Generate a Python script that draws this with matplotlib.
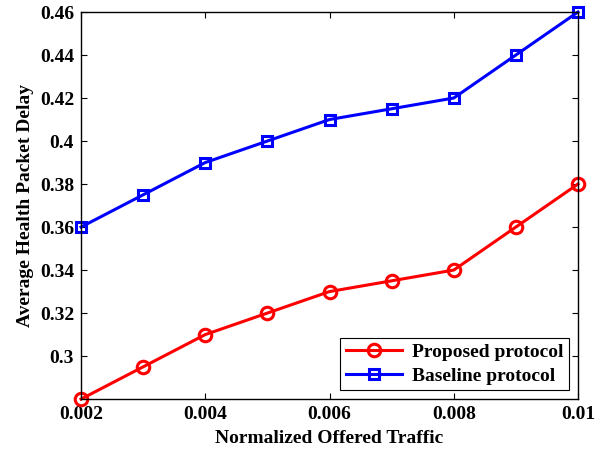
import matplotlib
matplotlib.use('Agg')
import matplotlib.pyplot as plt

# data
traffic = [0.002, 0.003, 0.004, 0.005, 0.006, 0.007, 0.008, 0.009, 0.01]
proposed = [0.28, 0.295, 0.31, 0.32, 0.33, 0.335, 0.34, 0.36, 0.38]
baseline = [0.36, 0.375, 0.39, 0.40, 0.41, 0.415, 0.42, 0.44, 0.46]
x_ticks = [0.002, 0.004, 0.006, 0.008, 0.01]
x_labels = ['0.002', '0.004', '0.006', '0.008', '0.01']
y_ticks = [0.3, 0.32, 0.34, 0.36, 0.38, 0.4, 0.42, 0.44, 0.46]
y_labels = ['0.3', '0.32', '0.34', '0.36', '0.38', '0.4', '0.42', '0.44', '0.46']

plt.rcParams['font.family'] = ['Liberation Serif', 'DejaVu Serif']
plt.rcParams['font.weight'] = 'bold'

fig = plt.figure(figsize=(6.02, 4.53), dpi=100)
ax = fig.add_axes([0.1346, 0.119, 0.8255, 0.8545])

ax.plot(traffic, proposed, color='#ff0000', lw=2.2, marker='o', ms=9,
        mfc='none', mew=2.2, label='Proposed protocol', clip_on=False)
ax.plot(traffic, baseline, color='#0000ff', lw=2.2, marker='s', ms=7.5,
        mfc='none', mew=2.2, label='Baseline protocol', clip_on=False)

ax.set_xlim(0.002, 0.01)
ax.set_ylim(0.28, 0.46)
ax.set_xticks(x_ticks)
ax.set_xticklabels(x_labels, fontsize=14, fontweight='bold')
ax.set_yticks(y_ticks)
ax.set_yticklabels(y_labels, fontsize=14, fontweight='bold')
ax.tick_params(direction='in', top=True, right=True, length=4, width=0.8, pad=5)
for s in ax.spines.values():
    s.set_linewidth(1.0)

ax.set_xlabel('Normalized Offered Traffic', fontsize=14, fontweight='bold', labelpad=5)
ax.set_ylabel('Average Health Packet Delay', fontsize=14, fontweight='bold', labelpad=4)

leg = ax.legend(loc='lower right', fontsize=14, fancybox=False, framealpha=1,
                edgecolor='black', handlelength=2.9, borderpad=0.3,
                labelspacing=0.3, borderaxespad=0.45, handletextpad=0.5)
leg.get_frame().set_linewidth(0.8)

fig.savefig('out.png', dpi=100)
